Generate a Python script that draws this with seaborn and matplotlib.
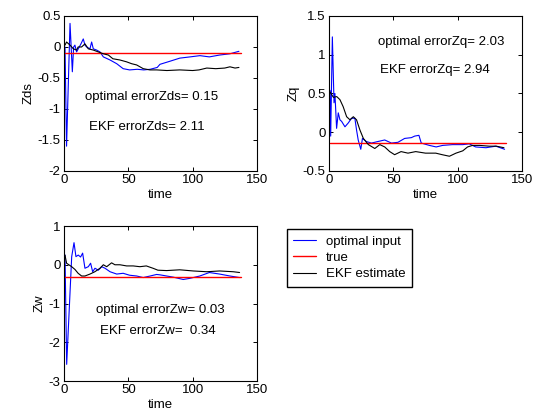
import numpy as np
import pandas as pd
import matplotlib
matplotlib.use("Agg")
import matplotlib.pyplot as plt
import seaborn as sns

# --- Zds ---
zds_t_opt = [0.8, 2.0, 4.7, 6.5, 7.5, 8.5, 9.8, 11.1, 13.2, 15.0, 16.3, 17.6, 20.2, 21.5, 22.8, 25.4,
             28.0, 30.6, 35.8, 41.0, 46.0, 51.0, 57.0, 62.0, 67.0, 72.5, 74.6, 82.4, 90.0, 98.0,
             105.7, 113.0, 121.0, 129.0, 136.0]
zds_opt = [0.0, -1.6, 0.38, -0.40, 0.0, 0.03, -0.08, -0.03, 0.05, 0.13, 0.03, 0.0, -0.03, 0.08, -0.03, -0.05,
           -0.08, -0.16, -0.21, -0.27, -0.35, -0.37, -0.36, -0.37, -0.36, -0.33, -0.28, -0.23, -0.18, -0.16,
           -0.14, -0.16, -0.13, -0.11, -0.07]
zds_t_ekf = [0.8, 2.0, 4.7, 7.3, 9.8, 11.0, 13.7, 16.3, 18.9, 22.8, 26.7, 30.6, 34.5, 38.0, 43.5, 48.7,
             52.6, 56.5, 61.6, 66.8, 72.0, 80.0, 90.0, 100.0, 105.0, 111.0, 118.0, 125.0, 129.0, 133.0, 136.0]
zds_ekf = [0.03, 0.08, 0.03, -0.03, -0.05, 0.0, 0.0, 0.05, -0.03, -0.05, -0.08, -0.11, -0.13, -0.19, -0.21, -0.24,
           -0.27, -0.29, -0.35, -0.37, -0.37, -0.38, -0.37, -0.38, -0.37, -0.34, -0.35, -0.34, -0.32, -0.34, -0.33]
zds_true = -0.09

# --- Zq ---
zq_t_opt = [0.8, 1.3, 2.6, 3.9, 4.6, 5.9, 7.2, 8.5, 9.8, 12.4, 15.0, 17.5, 20.1, 21.4, 22.7, 24.7, 26.0,
            29.0, 33.0, 38.0, 43.3, 48.5, 53.6, 58.8, 64.0, 66.6, 69.9, 71.7, 78.0, 83.3, 88.4, 96.0,
            104.0, 109.0, 114.0, 122.0, 129.7, 136.5]
zq_opt = [0.54, -0.05, 1.23, 0.38, 0.50, 0.05, 0.25, 0.16, 0.14, 0.07, 0.12, 0.18, 0.18, 0.03, -0.10, -0.22, -0.08,
          -0.12, -0.14, -0.12, -0.10, -0.14, -0.13, -0.08, -0.07, -0.05, -0.04, -0.14, -0.17, -0.19, -0.17, -0.16,
          -0.16, -0.15, -0.19, -0.20, -0.18, -0.22]
zq_t_ekf = [0.8, 3.4, 6.0, 8.5, 11.0, 13.7, 16.3, 18.9, 21.4, 24.0, 26.7, 30.6, 35.6, 39.5, 43.3, 47.2,
            51.0, 56.0, 61.4, 67.4, 75.0, 83.0, 88.0, 93.6, 98.7, 104.0, 107.7, 111.6, 117.0, 124.6, 130.0, 136.0]
zq_ekf = [0.52, 0.45, 0.46, 0.42, 0.33, 0.20, 0.16, 0.20, 0.16, 0.03, -0.08, -0.16, -0.21, -0.16, -0.19, -0.25,
          -0.29, -0.25, -0.27, -0.25, -0.27, -0.27, -0.29, -0.31, -0.27, -0.24, -0.19, -0.17, -0.17, -0.18, -0.18, -0.20]
zq_true = -0.14

# --- Zw ---
zw_t_opt = [0.8, 2.1, 6.0, 7.8, 9.3, 11.1, 12.9, 14.5, 16.3, 18.9, 20.7, 22.3, 24.1, 26.7, 29.3, 31.9,
            35.8, 41.0, 46.0, 51.0, 56.5, 61.6, 67.0, 72.0, 74.6, 85.0, 92.7, 97.9, 105.6, 113.0, 121.0,
            129.0, 136.5]
zw_opt = [0.25, -2.57, 0.21, 0.57, 0.21, 0.25, 0.20, 0.30, -0.09, -0.05, 0.04, -0.18, -0.09, -0.14, -0.05, -0.09,
          -0.18, -0.24, -0.22, -0.27, -0.29, -0.33, -0.29, -0.25, -0.26, -0.32, -0.38, -0.35, -0.29, -0.20, -0.24,
          -0.29, -0.33]
zw_t_ekf = [0.8, 2.0, 6.0, 8.5, 11.0, 13.7, 16.3, 20.2, 24.0, 28.0, 30.6, 33.2, 37.0, 39.6, 43.5, 48.7,
            53.8, 59.0, 64.0, 69.2, 73.0, 79.8, 90.0, 100.5, 111.0, 121.0, 131.6, 136.5]
zw_ekf = [0.25, 0.04, -0.05, -0.12, -0.22, -0.29, -0.29, -0.24, -0.18, -0.09, 0.0, -0.05, 0.05, 0.0, 0.0, -0.03,
          -0.03, -0.05, -0.03, -0.09, -0.14, -0.15, -0.13, -0.16, -0.18, -0.16, -0.18, -0.20]
zw_true = -0.31

t_true = [0.5, 137.5]

labels = ["optimal input", "true", "EKF estimate"]

sns.set_style("white")
plt.rcParams["font.family"] = ["Liberation Sans", "DejaVu Sans"]
plt.rcParams.update({
    "font.size": 9.5,
    "text.color": "black", "axes.labelcolor": "black",
    "axes.edgecolor": "black", "axes.linewidth": 0.8,
})

fig = plt.figure(figsize=(5.39, 4.17), dpi=100)
ax1 = fig.add_axes([0.1187, 0.590, 0.358, 0.3717])
ax2 = fig.add_axes([0.6104, 0.590, 0.358, 0.3717])
ax3 = fig.add_axes([0.1187, 0.0863, 0.358, 0.3717])

panels = [
    (ax1, "Zds", zds_t_opt, zds_opt, zds_t_ekf, zds_ekf, zds_true, (-2, 0.5), np.arange(-2, 0.51, 0.5),
     [(16, -0.81, "optimal errorZds= 0.15"), (19.6, -1.29, "EKF errorZds= 2.11")]),
    (ax2, "Zq", zq_t_opt, zq_opt, zq_t_ekf, zq_ekf, zq_true, (-0.5, 1.5), np.arange(-0.5, 1.51, 0.5),
     [(38, 1.16, "optimal errorZq= 2.03"), (39.5, 0.80, "EKF errorZq= 2.94")]),
    (ax3, "Zw", zw_t_opt, zw_opt, zw_t_ekf, zw_ekf, zw_true, (-3, 1), np.arange(-3, 1.1, 1),
     [(25, -1.17, "optimal errorZw= 0.03"), (28, -1.71, "EKF errorZw=  0.34")]),
]

for ax, name, t_opt, opt, t_ekf, ekf, true_val, ylim, yticks, texts in panels:
    sns.lineplot(x=t_opt, y=opt, ax=ax, color="blue", lw=0.8, estimator=None, sort=False)
    sns.lineplot(x=t_true, y=[true_val, true_val], ax=ax, color="red", lw=1.0, estimator=None, sort=False)
    sns.lineplot(x=t_ekf, y=ekf, ax=ax, color="black", lw=0.8, estimator=None, sort=False)
    ax.set_xlim(0, 150)
    ax.set_ylim(*ylim)
    ax.set_xticks([0, 50, 100, 150])
    ax.set_yticks(yticks)
    ax.set_yticklabels([f"{v:g}" for v in yticks])
    ax.tick_params(direction="in", length=3, width=0.7, color="black", labelcolor="black", pad=2.5,
                   top=True, right=True, bottom=True, left=True, labelsize=9.5)
    ax.set_xlabel("time", labelpad=2)
    ax.set_ylabel(name, labelpad=2)
    for x, y, s in texts:
        ax.text(x, y, s, fontsize=9.5, va="center", ha="left", color="black")

handles = ax1.get_lines()[:3]
leg = fig.legend(handles, labels, loc="upper left", bbox_to_anchor=(0.532, 0.451),
                 frameon=True, fancybox=False, edgecolor="black", framealpha=1,
                 fontsize=9.5, handlelength=1.75, labelspacing=0.3, borderpad=0.5,
                 handletextpad=0.7, borderaxespad=0)
for txt in leg.get_texts():
    txt.set_color("black")

fig.savefig("out.png", dpi=100)
